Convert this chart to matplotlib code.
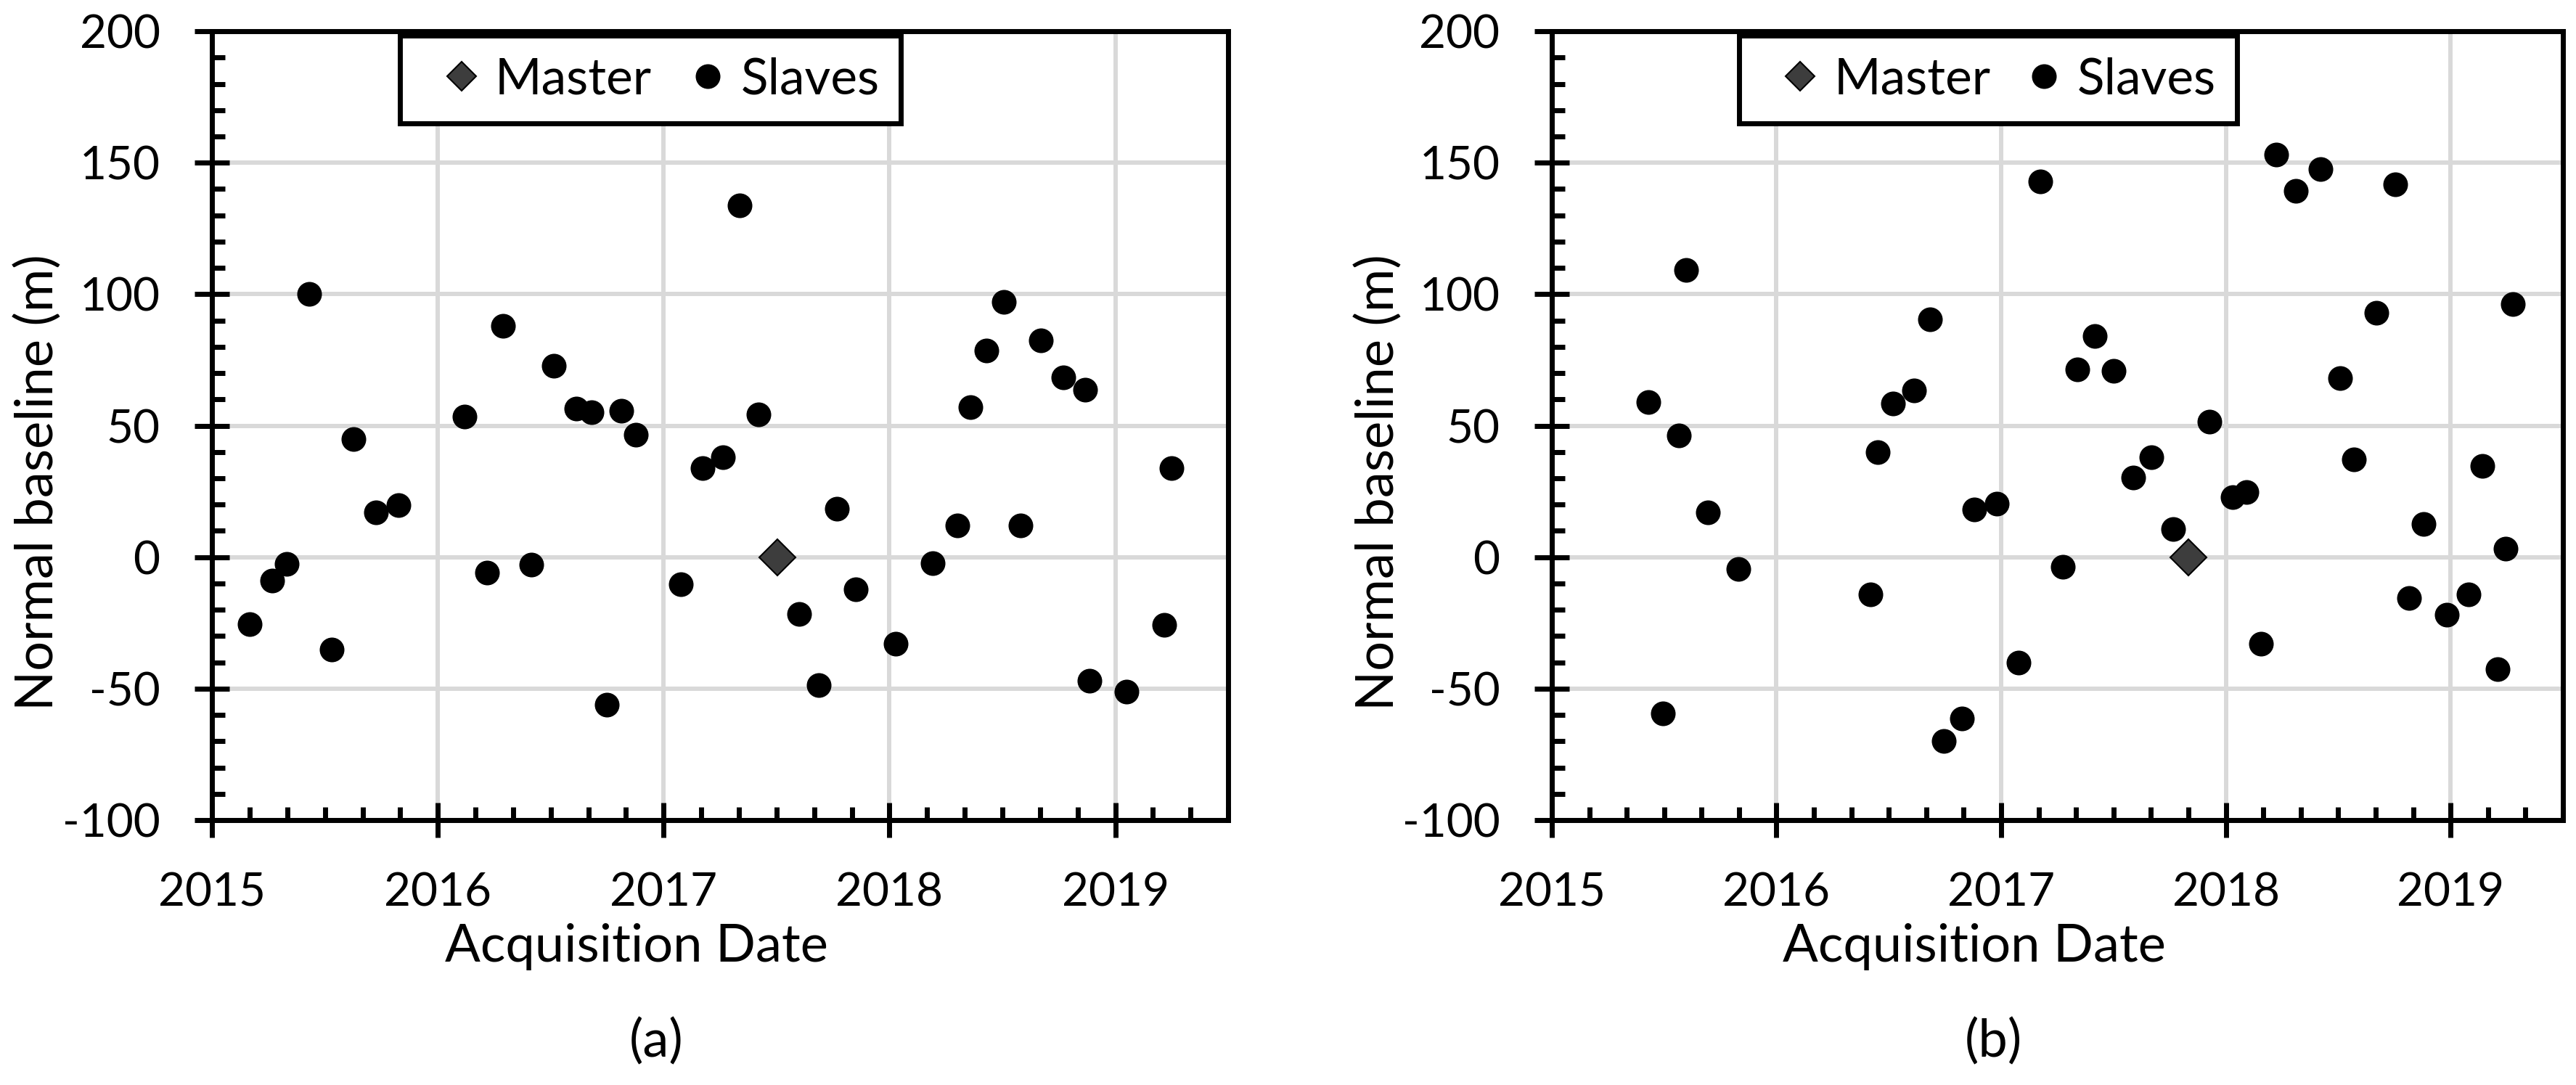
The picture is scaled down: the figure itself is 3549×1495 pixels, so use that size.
import matplotlib
matplotlib.use("Agg")
import matplotlib.pyplot as plt
from matplotlib.ticker import MultipleLocator

plt.rcParams['font.family'] = ['Lato', 'DejaVu Sans']
plt.rcParams['axes.unicode_minus'] = False

# panel (a)
a_slave_x = [2015.168, 2015.267, 2015.332, 2015.430, 2015.531, 2015.628, 2015.725, 2015.827,
             2016.119, 2016.219, 2016.287, 2016.415, 2016.515, 2016.614, 2016.680, 2016.748,
             2016.811, 2016.876, 2017.075, 2017.171, 2017.262, 2017.335, 2017.420, 2017.601,
             2017.686, 2017.766, 2017.851, 2018.027, 2018.190, 2018.300, 2018.360, 2018.430,
             2018.507, 2018.580, 2018.671, 2018.770, 2018.867, 2018.886, 2019.050, 2019.216,
             2019.249]
a_slave_y = [-25.4, -8.9, -2.5, 100.0, -35.2, 44.9, 17.0, 19.7,
             53.4, -5.8, 87.9, -2.9, 72.8, 56.5, 55.0, -56.1,
             55.6, 46.5, -10.3, 33.9, 38.1, 133.9, 54.3, -21.5,
             -48.6, 18.5, -12.1, -32.9, -2.2, 12.0, 57.0, 78.5,
             97.2, 12.0, 82.5, 68.4, 63.7, -47.0, -51.0, -25.8,
             34.0]
a_master_x = [2017.503]
a_master_y = [0.0]

# panel (b)
b_slave_x = [2015.431, 2015.496, 2015.567, 2015.598, 2015.696, 2015.832, 2016.419, 2016.450,
             2016.518, 2016.613, 2016.684, 2016.745, 2016.827, 2016.881, 2016.979, 2017.078,
             2017.173, 2017.275, 2017.340, 2017.418, 2017.500, 2017.587, 2017.669, 2017.767,
             2017.927, 2018.032, 2018.093, 2018.158, 2018.224, 2018.310, 2018.420, 2018.508,
             2018.569, 2018.670, 2018.753, 2018.817, 2018.881, 2018.983, 2019.081, 2019.143,
             2019.210, 2019.245, 2019.277]
b_slave_y = [59.0, -59.3, 46.4, 109.1, 17.0, -4.4, -14.1, 39.9,
             58.4, 63.5, 90.4, -69.9, -61.3, 18.2, 20.3, -40.0,
             142.9, -3.7, 71.3, 84.0, 70.9, 30.3, 38.1, 10.7,
             51.6, 22.7, 24.7, -32.9, 153.0, 139.3, 147.5, 68.2,
             37.2, 92.8, 141.8, -15.6, 12.6, -21.8, -14.1, 34.7,
             -42.7, 3.3, 96.2]
b_master_x = [2017.835]
b_master_y = [0.0]

year_ticks = [2015, 2016, 2017, 2018, 2019]
y_ticks = [-100, -50, 0, 50, 100, 150, 200]

panels = [
    ([0.0823, 0.2441, 0.3945, 0.7271], a_slave_x, a_slave_y, a_master_x, a_master_y, "(a)"),
    ([0.6024, 0.2441, 0.3925, 0.7271], b_slave_x, b_slave_y, b_master_x, b_master_y, "(b)"),
]

fig = plt.figure(figsize=(35.49, 14.95), dpi=100)

for rect, sx, sy, mx, my, tag in panels:
    ax = fig.add_axes(rect)
    ax.plot(mx, my, linestyle='none', marker='D', ms=25, mfc='#3d3d3d', mec='black',
            mew=1.5, label='Master', zorder=4)
    ax.plot(sx, sy, linestyle='none', marker='o', ms=24.5, mfc='black', mec='black',
            mew=0, label='Slaves', zorder=4)

    ax.set_xlim(2015, 2019.5)
    ax.set_ylim(-100, 200)
    ax.set_xticks(year_ticks)
    ax.set_xticklabels([str(y) for y in year_ticks])
    ax.set_yticks(y_ticks)
    ax.xaxis.set_minor_locator(MultipleLocator(1 / 6))
    ax.yaxis.set_minor_locator(MultipleLocator(10))

    ax.grid(True, which='major', color='#d9d9d9', linewidth=4.3)
    ax.set_axisbelow(True)
    for sp in ax.spines.values():
        sp.set_linewidth(5)
        sp.set_color('black')

    ax.tick_params(which='major', direction='inout', length=34, width=5,
                   labelsize=46, pad=34.5, color='black')
    ax.tick_params(which='minor', direction='in', length=13, width=5, color='black')

    ax.set_xlabel('Acquisition Date', fontsize=52)
    ax.xaxis.set_label_coords(0.418, -0.1794)
    ax.xaxis.label.set_va('baseline')
    ax.set_ylabel('Normal baseline (m)', fontsize=52)
    ax.yaxis.set_label_coords(-0.171, 0.428)
    ax.yaxis.label.set_va('center')

    ax.text(0.437, -0.2806, tag, transform=ax.transAxes, fontsize=52,
            ha='center', va='center')

    leg = ax.legend(loc='center left', bbox_to_anchor=(0.185, 0.873, 0.493, 0.1316),
                    mode='expand', ncol=2, fontsize=50, borderaxespad=0,
                    borderpad=0.42, handlelength=1.6, handletextpad=-0.14,
                    fancybox=False, framealpha=1, edgecolor='black', numpoints=1)
    leg.get_frame().set_linewidth(5)
    leg.legend_handles[0].set_markersize(20.5)
    leg.set_zorder(10)

fig.savefig('out.png', dpi=100)
